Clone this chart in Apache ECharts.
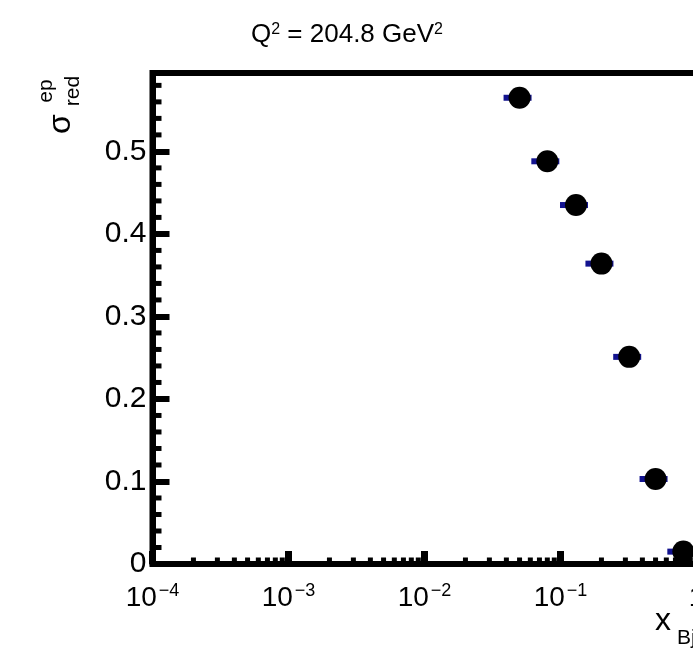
<!DOCTYPE html>
<html>
<head>
<meta charset="utf-8">
<script src="https://cdn.jsdelivr.net/npm/echarts@6/dist/echarts.min.js"></script>
<style>
html,body{margin:0;padding:0;background:#fff;overflow:hidden;width:693px;height:650px;}
#chart{width:760px;height:650px;}
</style>
</head>
<body>
<div id="chart"></div>
<script>
// ---- data ----
const xBj = [0.05, 0.08, 0.13, 0.2, 0.32, 0.5, 0.8];
const sigmaRed = [0.565, 0.488, 0.435, 0.364, 0.251, 0.103, 0.015];
const titleText = ['Q', '2', ' = 204.8 GeV', '2'];
const xRange = [1e-4, 1];
const yRange = [0, 0.595];
const yTickStep = 0.1;
const yMinorStep = 0.02;

// minor tick positions (axis decoration)
const xMinorTicks = [];
for (let k = -4; k < 0; k++) {
  for (let m = 2; m <= 9; m++) xMinorTicks.push(m * Math.pow(10, k));
}
const yMinorTicks = [];
for (let i = 1; i * yMinorStep < yRange[1]; i++) {
  if (i % 5 !== 0) yMinorTicks.push(+(i * yMinorStep).toFixed(2));
}

const FONT = "'Liberation Sans', Arial, Helvetica, sans-serif";
const chart = echarts.init(document.getElementById('chart'), null, {renderer: 'canvas'});

const tickData = xMinorTicks.map(v => [v, yRange[0], 0]).concat(yMinorTicks.map(v => [xRange[0], v, 1]));
const pointData = xBj.map((x, i) => [x, sigmaRed[i]]);

chart.setOption({
  animation: false,
  backgroundColor: '#fff',
  grid: {
    left: 152.5, top: 73, right: 760 - 696.5, bottom: 650 - 564,
    show: true, borderColor: '#000', borderWidth: 6, backgroundColor: 'transparent'
  },
  xAxis: {
    type: 'log', logBase: 10, min: xRange[0], max: xRange[1],
    axisLine: {show: true, lineStyle: {color: '#000', width: 6}},
    axisTick: {show: true, inside: true, length: 13, lineStyle: {color: '#000', width: 7}},
    splitLine: {show: false},
    axisLabel: {
      margin: 18,
      formatter: function (v) {
        const e = Math.round(Math.log10(v));
        if (e === 0) return '{b|1}';
        return '{b|10}{s|\u2212' + Math.abs(e) + '}';
      },
      rich: {
        b: {fontSize: 28, fontFamily: FONT, color: '#000', padding: [20, 0, 0, 0], verticalAlign: 'bottom', lineHeight: 30},
        s: {fontSize: 18, fontFamily: FONT, color: '#000', verticalAlign: 'top', lineHeight: 18, padding: [0, 0, 0, 2]}
      }
    }
  },
  yAxis: {
    type: 'value', min: yRange[0], max: yRange[1], interval: yTickStep,
    axisLine: {show: true, lineStyle: {color: '#000', width: 6}},
    axisTick: {show: true, inside: true, length: 17, lineStyle: {color: '#000', width: 6}},
    splitLine: {show: false},
    axisLabel: {
      margin: 6, fontSize: 30, fontFamily: FONT, color: '#000', showMaxLabel: false,
      padding: [6, 0, 0, 0],
      formatter: function (v) { return Math.abs(v) < 1e-9 ? '0' : String(+v.toFixed(1)); }
    }
  },
  series: [
    {
      type: 'custom', name: 'minorTicks', clip: false, silent: true, z: 3,
      data: tickData,
      renderItem: function (params, api) {
        const p = api.coord([api.value(0), api.value(1)]);
        const kind = api.value(2);
        const shape = kind === 0
          ? {x1: p[0], y1: p[1], x2: p[0], y2: p[1] - 6.5}
          : {x1: p[0], y1: p[1], x2: p[0] + 9, y2: p[1]};
        return {type: 'line', shape: shape, style: {stroke: '#000', lineWidth: 5}};
      }
    },
    {
      type: 'custom', name: 'errors', clip: false, silent: true, z: 4,
      data: pointData,
      renderItem: function (params, api) {
        const p = api.coord([api.value(0), api.value(1)]);
        return {type: 'rect', shape: {x: p[0] - 16, y: p[1] - 3, width: 28, height: 6},
                style: {fill: '#13138f'}};
      }
    },
    {
      type: 'scatter', name: 'data', z: 5,
      symbol: 'circle', symbolSize: 22,
      itemStyle: {color: '#000', opacity: 1},
      data: pointData
    }
  ],
  graphic: [
    {
      type: 'text', x: 347, y: 35,
      style: {
        text: '{n|' + titleText[0] + '}{s|' + titleText[1] + '}{n|' + titleText[2] + '}{s|' + titleText[3] + '}',
        align: 'center', verticalAlign: 'middle',
        rich: {
          n: {fontSize: 26, fontFamily: FONT, fill: '#000', padding: [9, 0, 0, 0], verticalAlign: 'bottom', lineHeight: 26},
          s: {fontSize: 16, fontFamily: FONT, fill: '#000', verticalAlign: 'top', lineHeight: 16}
        }
      }
    },
    {type: 'text', x: 61, y: 124, rotation: Math.PI / 2,
     style: {text: '\u03c3', fontSize: 32, fontFamily: FONT, fill: '#000', align: 'center', verticalAlign: 'middle'}},
    {type: 'text', x: 46, y: 91, rotation: Math.PI / 2,
     style: {text: 'ep', fontSize: 21, fontFamily: FONT, fill: '#000', align: 'center', verticalAlign: 'middle'}},
    {type: 'text', x: 73, y: 91, rotation: Math.PI / 2,
     style: {text: 'red', fontSize: 21, fontFamily: FONT, fill: '#000', align: 'center', verticalAlign: 'middle'}},
    {type: 'text', x: 663, y: 637,
     style: {text: 'x', fontSize: 32, fontFamily: FONT, fill: '#000', align: 'center', verticalAlign: 'bottom'}},
    {type: 'text', x: 677, y: 649,
     style: {text: 'Bj', fontSize: 21, fontFamily: FONT, fill: '#000', align: 'left', verticalAlign: 'bottom'}}
  ]
});
</script>
</body>
</html>
